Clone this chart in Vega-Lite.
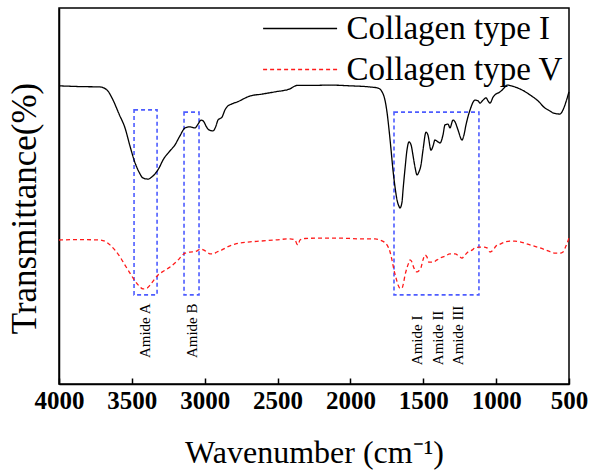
{
  "$schema": "https://vega.github.io/schema/vega-lite/v6.json",
  "width": 510,
  "height": 376,
  "autosize": {"type": "none"},
  "padding": {"left": 59, "top": 8, "right": 21, "bottom": 91},
  "background": "white",
  "config": {
    "font": "Liberation Serif",
    "view": {"stroke": "black", "strokeWidth": 1.5},
    "style": {"guide-label": {"font": "Liberation Serif"}, "guide-title": {"font": "Liberation Serif"}},
    "axis": {"grid": false, "domainColor": "black", "domainWidth": 1.5, "tickColor": "black", "labelColor": "black", "titleColor": "black", "titleFontWeight": "normal", "labelFont": "Liberation Serif", "titleFont": "Liberation Serif"},
    "legend": {"labelFont": "Liberation Serif"},
    "text": {"font": "Liberation Serif"}
  },
  "datasets": {
    "spectra": [
      {"wn": 4000, "t": 79.3, "series": "Collagen type I"},
      {"wn": 3856, "t": 79.1, "series": "Collagen type I"},
      {"wn": 3719, "t": 79.0, "series": "Collagen type I"},
      {"wn": 3671, "t": 78.2, "series": "Collagen type I"},
      {"wn": 3629, "t": 75.5, "series": "Collagen type I"},
      {"wn": 3588, "t": 71.8, "series": "Collagen type I"},
      {"wn": 3547, "t": 68.1, "series": "Collagen type I"},
      {"wn": 3513, "t": 63.3, "series": "Collagen type I"},
      {"wn": 3478, "t": 58.8, "series": "Collagen type I"},
      {"wn": 3451, "t": 56.4, "series": "Collagen type I"},
      {"wn": 3424, "t": 54.8, "series": "Collagen type I"},
      {"wn": 3389, "t": 54.5, "series": "Collagen type I"},
      {"wn": 3362, "t": 55.1, "series": "Collagen type I"},
      {"wn": 3341, "t": 55.9, "series": "Collagen type I"},
      {"wn": 3314, "t": 57.4, "series": "Collagen type I"},
      {"wn": 3286, "t": 59.6, "series": "Collagen type I"},
      {"wn": 3245, "t": 61.7, "series": "Collagen type I"},
      {"wn": 3204, "t": 63.6, "series": "Collagen type I"},
      {"wn": 3170, "t": 66.0, "series": "Collagen type I"},
      {"wn": 3135, "t": 68.1, "series": "Collagen type I"},
      {"wn": 3101, "t": 68.4, "series": "Collagen type I"},
      {"wn": 3067, "t": 68.1, "series": "Collagen type I"},
      {"wn": 3046, "t": 69.1, "series": "Collagen type I"},
      {"wn": 3025, "t": 70.2, "series": "Collagen type I"},
      {"wn": 3005, "t": 69.7, "series": "Collagen type I"},
      {"wn": 2991, "t": 68.6, "series": "Collagen type I"},
      {"wn": 2971, "t": 67.6, "series": "Collagen type I"},
      {"wn": 2943, "t": 67.3, "series": "Collagen type I"},
      {"wn": 2923, "t": 68.6, "series": "Collagen type I"},
      {"wn": 2909, "t": 70.2, "series": "Collagen type I"},
      {"wn": 2881, "t": 71.0, "series": "Collagen type I"},
      {"wn": 2861, "t": 72.9, "series": "Collagen type I"},
      {"wn": 2847, "t": 73.7, "series": "Collagen type I"},
      {"wn": 2813, "t": 74.5, "series": "Collagen type I"},
      {"wn": 2778, "t": 75.0, "series": "Collagen type I"},
      {"wn": 2689, "t": 76.6, "series": "Collagen type I"},
      {"wn": 2607, "t": 77.1, "series": "Collagen type I"},
      {"wn": 2518, "t": 77.7, "series": "Collagen type I"},
      {"wn": 2415, "t": 78.5, "series": "Collagen type I"},
      {"wn": 2367, "t": 79.4, "series": "Collagen type I"},
      {"wn": 2277, "t": 79.4, "series": "Collagen type I"},
      {"wn": 2140, "t": 79.5, "series": "Collagen type I"},
      {"wn": 2003, "t": 79.3, "series": "Collagen type I"},
      {"wn": 1866, "t": 79.0, "series": "Collagen type I"},
      {"wn": 1811, "t": 78.7, "series": "Collagen type I"},
      {"wn": 1783, "t": 77.7, "series": "Collagen type I"},
      {"wn": 1763, "t": 75.5, "series": "Collagen type I"},
      {"wn": 1749, "t": 72.3, "series": "Collagen type I"},
      {"wn": 1735, "t": 67.6, "series": "Collagen type I"},
      {"wn": 1721, "t": 62.2, "series": "Collagen type I"},
      {"wn": 1708, "t": 56.9, "series": "Collagen type I"},
      {"wn": 1694, "t": 52.4, "series": "Collagen type I"},
      {"wn": 1680, "t": 48.9, "series": "Collagen type I"},
      {"wn": 1667, "t": 47.3, "series": "Collagen type I"},
      {"wn": 1660, "t": 46.8, "series": "Collagen type I"},
      {"wn": 1646, "t": 48.4, "series": "Collagen type I"},
      {"wn": 1639, "t": 51.6, "series": "Collagen type I"},
      {"wn": 1625, "t": 57.4, "series": "Collagen type I"},
      {"wn": 1612, "t": 62.2, "series": "Collagen type I"},
      {"wn": 1598, "t": 64.4, "series": "Collagen type I"},
      {"wn": 1584, "t": 63.6, "series": "Collagen type I"},
      {"wn": 1571, "t": 60.9, "series": "Collagen type I"},
      {"wn": 1557, "t": 57.7, "series": "Collagen type I"},
      {"wn": 1543, "t": 55.6, "series": "Collagen type I"},
      {"wn": 1530, "t": 56.4, "series": "Collagen type I"},
      {"wn": 1516, "t": 58.2, "series": "Collagen type I"},
      {"wn": 1502, "t": 62.2, "series": "Collagen type I"},
      {"wn": 1481, "t": 67.0, "series": "Collagen type I"},
      {"wn": 1468, "t": 66.2, "series": "Collagen type I"},
      {"wn": 1447, "t": 62.2, "series": "Collagen type I"},
      {"wn": 1433, "t": 63.3, "series": "Collagen type I"},
      {"wn": 1420, "t": 64.9, "series": "Collagen type I"},
      {"wn": 1399, "t": 64.4, "series": "Collagen type I"},
      {"wn": 1385, "t": 64.1, "series": "Collagen type I"},
      {"wn": 1365, "t": 66.2, "series": "Collagen type I"},
      {"wn": 1351, "t": 68.9, "series": "Collagen type I"},
      {"wn": 1330, "t": 69.1, "series": "Collagen type I"},
      {"wn": 1317, "t": 68.1, "series": "Collagen type I"},
      {"wn": 1296, "t": 70.2, "series": "Collagen type I"},
      {"wn": 1282, "t": 69.7, "series": "Collagen type I"},
      {"wn": 1262, "t": 67.6, "series": "Collagen type I"},
      {"wn": 1234, "t": 64.9, "series": "Collagen type I"},
      {"wn": 1221, "t": 66.2, "series": "Collagen type I"},
      {"wn": 1207, "t": 68.9, "series": "Collagen type I"},
      {"wn": 1179, "t": 72.9, "series": "Collagen type I"},
      {"wn": 1145, "t": 75.5, "series": "Collagen type I"},
      {"wn": 1124, "t": 75.3, "series": "Collagen type I"},
      {"wn": 1111, "t": 74.7, "series": "Collagen type I"},
      {"wn": 1090, "t": 75.5, "series": "Collagen type I"},
      {"wn": 1069, "t": 76.1, "series": "Collagen type I"},
      {"wn": 1056, "t": 75.3, "series": "Collagen type I"},
      {"wn": 1042, "t": 74.7, "series": "Collagen type I"},
      {"wn": 1021, "t": 76.3, "series": "Collagen type I"},
      {"wn": 1008, "t": 76.9, "series": "Collagen type I"},
      {"wn": 973, "t": 77.7, "series": "Collagen type I"},
      {"wn": 946, "t": 78.7, "series": "Collagen type I"},
      {"wn": 925, "t": 79.5, "series": "Collagen type I"},
      {"wn": 898, "t": 79.3, "series": "Collagen type I"},
      {"wn": 871, "t": 79.0, "series": "Collagen type I"},
      {"wn": 822, "t": 78.2, "series": "Collagen type I"},
      {"wn": 768, "t": 76.9, "series": "Collagen type I"},
      {"wn": 713, "t": 75.3, "series": "Collagen type I"},
      {"wn": 665, "t": 73.4, "series": "Collagen type I"},
      {"wn": 630, "t": 72.6, "series": "Collagen type I"},
      {"wn": 610, "t": 72.1, "series": "Collagen type I"},
      {"wn": 562, "t": 71.8, "series": "Collagen type I"},
      {"wn": 541, "t": 72.9, "series": "Collagen type I"},
      {"wn": 521, "t": 75.0, "series": "Collagen type I"},
      {"wn": 500, "t": 77.7, "series": "Collagen type I"},
      {"wn": 4000, "t": 38.3, "series": "Collagen type V"},
      {"wn": 3856, "t": 38.4, "series": "Collagen type V"},
      {"wn": 3719, "t": 38.3, "series": "Collagen type V"},
      {"wn": 3677, "t": 37.8, "series": "Collagen type V"},
      {"wn": 3650, "t": 37.0, "series": "Collagen type V"},
      {"wn": 3616, "t": 35.6, "series": "Collagen type V"},
      {"wn": 3581, "t": 33.8, "series": "Collagen type V"},
      {"wn": 3547, "t": 31.6, "series": "Collagen type V"},
      {"wn": 3513, "t": 29.5, "series": "Collagen type V"},
      {"wn": 3478, "t": 27.4, "series": "Collagen type V"},
      {"wn": 3451, "t": 26.1, "series": "Collagen type V"},
      {"wn": 3424, "t": 25.3, "series": "Collagen type V"},
      {"wn": 3396, "t": 25.5, "series": "Collagen type V"},
      {"wn": 3375, "t": 26.3, "series": "Collagen type V"},
      {"wn": 3348, "t": 27.7, "series": "Collagen type V"},
      {"wn": 3320, "t": 29.0, "series": "Collagen type V"},
      {"wn": 3279, "t": 30.1, "series": "Collagen type V"},
      {"wn": 3238, "t": 31.1, "series": "Collagen type V"},
      {"wn": 3190, "t": 32.7, "series": "Collagen type V"},
      {"wn": 3135, "t": 34.8, "series": "Collagen type V"},
      {"wn": 3101, "t": 35.1, "series": "Collagen type V"},
      {"wn": 3067, "t": 35.2, "series": "Collagen type V"},
      {"wn": 3025, "t": 35.9, "series": "Collagen type V"},
      {"wn": 3005, "t": 35.6, "series": "Collagen type V"},
      {"wn": 2984, "t": 35.1, "series": "Collagen type V"},
      {"wn": 2964, "t": 34.6, "series": "Collagen type V"},
      {"wn": 2943, "t": 34.6, "series": "Collagen type V"},
      {"wn": 2916, "t": 35.1, "series": "Collagen type V"},
      {"wn": 2895, "t": 35.4, "series": "Collagen type V"},
      {"wn": 2847, "t": 36.4, "series": "Collagen type V"},
      {"wn": 2792, "t": 37.2, "series": "Collagen type V"},
      {"wn": 2689, "t": 37.8, "series": "Collagen type V"},
      {"wn": 2621, "t": 38.0, "series": "Collagen type V"},
      {"wn": 2518, "t": 38.3, "series": "Collagen type V"},
      {"wn": 2415, "t": 38.6, "series": "Collagen type V"},
      {"wn": 2380, "t": 38.3, "series": "Collagen type V"},
      {"wn": 2367, "t": 37.2, "series": "Collagen type V"},
      {"wn": 2360, "t": 37.0, "series": "Collagen type V"},
      {"wn": 2346, "t": 38.3, "series": "Collagen type V"},
      {"wn": 2312, "t": 38.7, "series": "Collagen type V"},
      {"wn": 2209, "t": 38.8, "series": "Collagen type V"},
      {"wn": 2072, "t": 38.8, "series": "Collagen type V"},
      {"wn": 1934, "t": 38.6, "series": "Collagen type V"},
      {"wn": 1831, "t": 38.6, "series": "Collagen type V"},
      {"wn": 1797, "t": 38.3, "series": "Collagen type V"},
      {"wn": 1770, "t": 37.8, "series": "Collagen type V"},
      {"wn": 1749, "t": 37.0, "series": "Collagen type V"},
      {"wn": 1728, "t": 35.1, "series": "Collagen type V"},
      {"wn": 1715, "t": 33.0, "series": "Collagen type V"},
      {"wn": 1701, "t": 30.3, "series": "Collagen type V"},
      {"wn": 1687, "t": 28.2, "series": "Collagen type V"},
      {"wn": 1673, "t": 26.3, "series": "Collagen type V"},
      {"wn": 1660, "t": 25.5, "series": "Collagen type V"},
      {"wn": 1646, "t": 25.5, "series": "Collagen type V"},
      {"wn": 1639, "t": 26.3, "series": "Collagen type V"},
      {"wn": 1625, "t": 29.0, "series": "Collagen type V"},
      {"wn": 1612, "t": 30.9, "series": "Collagen type V"},
      {"wn": 1598, "t": 32.4, "series": "Collagen type V"},
      {"wn": 1591, "t": 33.0, "series": "Collagen type V"},
      {"wn": 1577, "t": 32.4, "series": "Collagen type V"},
      {"wn": 1571, "t": 31.6, "series": "Collagen type V"},
      {"wn": 1557, "t": 30.3, "series": "Collagen type V"},
      {"wn": 1543, "t": 29.8, "series": "Collagen type V"},
      {"wn": 1530, "t": 30.1, "series": "Collagen type V"},
      {"wn": 1516, "t": 30.9, "series": "Collagen type V"},
      {"wn": 1502, "t": 33.0, "series": "Collagen type V"},
      {"wn": 1488, "t": 34.3, "series": "Collagen type V"},
      {"wn": 1475, "t": 33.8, "series": "Collagen type V"},
      {"wn": 1461, "t": 32.4, "series": "Collagen type V"},
      {"wn": 1433, "t": 32.4, "series": "Collagen type V"},
      {"wn": 1406, "t": 33.0, "series": "Collagen type V"},
      {"wn": 1385, "t": 33.5, "series": "Collagen type V"},
      {"wn": 1351, "t": 34.0, "series": "Collagen type V"},
      {"wn": 1317, "t": 34.6, "series": "Collagen type V"},
      {"wn": 1282, "t": 34.6, "series": "Collagen type V"},
      {"wn": 1255, "t": 34.0, "series": "Collagen type V"},
      {"wn": 1234, "t": 33.5, "series": "Collagen type V"},
      {"wn": 1214, "t": 34.3, "series": "Collagen type V"},
      {"wn": 1193, "t": 35.1, "series": "Collagen type V"},
      {"wn": 1166, "t": 35.6, "series": "Collagen type V"},
      {"wn": 1145, "t": 36.2, "series": "Collagen type V"},
      {"wn": 1111, "t": 36.4, "series": "Collagen type V"},
      {"wn": 1083, "t": 36.4, "series": "Collagen type V"},
      {"wn": 1063, "t": 36.2, "series": "Collagen type V"},
      {"wn": 1042, "t": 35.1, "series": "Collagen type V"},
      {"wn": 1021, "t": 35.6, "series": "Collagen type V"},
      {"wn": 1001, "t": 36.7, "series": "Collagen type V"},
      {"wn": 973, "t": 37.2, "series": "Collagen type V"},
      {"wn": 939, "t": 37.8, "series": "Collagen type V"},
      {"wn": 905, "t": 38.0, "series": "Collagen type V"},
      {"wn": 871, "t": 38.0, "series": "Collagen type V"},
      {"wn": 836, "t": 37.8, "series": "Collagen type V"},
      {"wn": 768, "t": 37.0, "series": "Collagen type V"},
      {"wn": 699, "t": 36.2, "series": "Collagen type V"},
      {"wn": 644, "t": 35.4, "series": "Collagen type V"},
      {"wn": 596, "t": 34.8, "series": "Collagen type V"},
      {"wn": 562, "t": 34.8, "series": "Collagen type V"},
      {"wn": 541, "t": 35.1, "series": "Collagen type V"},
      {"wn": 521, "t": 36.7, "series": "Collagen type V"},
      {"wn": 500, "t": 38.8, "series": "Collagen type V"}
    ],
    "boxes": [
      {"region": "Amide A", "wn": 3485, "wn2": 3327, "t": 23.7, "t2": 72.9},
      {"region": "Amide B", "wn": 3142, "wn2": 3039, "t": 23.7, "t2": 72.3},
      {"region": "Amide I-III", "wn": 1701, "wn2": 1118, "t": 23.7, "t2": 72.3}
    ],
    "labels": [
      {"label": "Amide A", "wn": 3410, "t": 6.9},
      {"label": "Amide B", "wn": 3087, "t": 6.9},
      {"label": "Amide I", "wn": 1543, "t": 5.0},
      {"label": "Amide II", "wn": 1399, "t": 5.0},
      {"label": "Amide III", "wn": 1262, "t": 5.0}
    ]
  },
  "encoding": {
    "x": {
      "field": "wn", "type": "quantitative",
      "scale": {"domain": [500, 4000], "reverse": true, "nice": false, "zero": false},
      "axis": {"values": [4000, 3500, 3000, 2500, 2000, 1500, 1000, 500], "format": "d", "tickSize": -6, "tickWidth": 1.5, "labelFont": "Liberation Serif", "titleFont": "Liberation Serif", "labelFontSize": 25, "labelFontWeight": "bold", "labelPadding": 10, "labelFlush": false, "title": "Wavenumber (cm⁻¹)", "titleFontSize": 32, "titlePadding": 24}
    },
    "y": {
      "field": "t", "type": "quantitative",
      "scale": {"domain": [0, 100], "nice": false},
      "axis": {"labels": false, "ticks": false, "labelFont": "Liberation Serif", "titleFont": "Liberation Serif", "title": "Transmittance(%)", "titleFontSize": 35, "titlePadding": 17, "titleY": 200}
    }
  },
  "layer": [
    {
      "data": {"name": "boxes"},
      "mark": {"type": "rect", "fill": null, "filled": false, "stroke": "#4d5cff", "strokeWidth": 1.6, "strokeDash": [4, 3]},
      "encoding": {
        "x2": {"field": "wn2"},
        "y2": {"field": "t2"}
      }
    },
    {
      "data": {"name": "spectra"},
      "mark": {"type": "line", "strokeWidth": 1.3, "interpolate": "monotone"},
      "encoding": {
        "color": {
          "field": "series", "type": "nominal",
          "scale": {"domain": ["Collagen type I", "Collagen type V"], "range": ["black", "#ff1a1a"]},
          "legend": {"title": null, "orient": "none", "legendX": 195, "legendY": 4, "symbolType": "M-5,0H5", "symbolSize": 219, "symbolOffset": 29.6, "symbolStrokeWidth": 1.5, "labelFontSize": 33, "labelFont": "Liberation Serif", "labelColor": "black", "labelOffset": 30, "rowPadding": 7, "padding": 0, "labelLimit": 400}
        },
        "strokeDash": {
          "field": "series", "type": "nominal",
          "scale": {"domain": ["Collagen type I", "Collagen type V"], "range": [[1, 0], [4, 3]]},
          "legend": {"title": null}
        },
        "order": {"field": "wn", "type": "quantitative", "sort": "descending"}
      }
    },
    {
      "data": {"name": "labels"},
      "mark": {"type": "text", "angle": 270, "align": "left", "baseline": "middle", "fontSize": 15, "color": "black", "font": "Liberation Serif"},
      "encoding": {
        "text": {"field": "label"}
      }
    }
  ]
}
